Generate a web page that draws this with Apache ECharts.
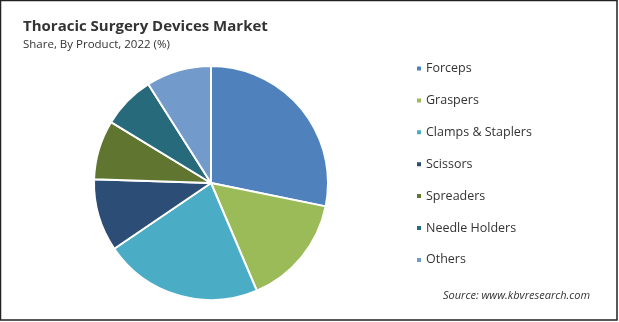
<!DOCTYPE html>
<html>
<head>
<meta charset="utf-8">
<script src="https://cdn.jsdelivr.net/npm/echarts@6/dist/echarts.min.js"></script>
<style>html,body{margin:0;padding:0;background:#fff;}#c{width:619px;height:322px;}</style>
</head>
<body>
<div id="c"></div>
<script>
const categories = ["Forceps", "Graspers", "Clamps & Staplers", "Scissors", "Spreaders", "Needle Holders", "Others"];
const shares = [28.2, 15.4, 21.9, 10.0, 8.2, 7.3, 9.0];
const colors = ["#4f81bd", "#9bbb59", "#4bacc6", "#2c4d75", "#5f7530", "#276a7c", "#729aca"];
const titleText = "Thoracic Surgery Devices Market";
const subtitleText = "Share, By Product, 2022 (%)";
const sourceText = "Source: www.kbvresearch.com";

const chart = echarts.init(document.getElementById('c'), null, {renderer: 'canvas'});
const font = "Open Sans, Noto Sans, sans-serif";
chart.setOption({
  animation: false,
  backgroundColor: '#fff',
  color: colors,
  title: {
    text: titleText,
    subtext: subtitleText,
    left: 18, top: 14,
    itemGap: 5,
    textStyle: {fontFamily: font, fontSize: 15, fontWeight: 'bold', color: '#333'},
    subtextStyle: {fontFamily: font, fontSize: 11.5, color: '#333'}
  },
  legend: {
    orient: 'vertical',
    left: 410, top: 57,
    itemWidth: 6, itemHeight: 6, itemGap: 18.9,
    icon: 'rect',
    textStyle: {fontFamily: font, fontSize: 12.5, color: '#333', padding: [0,0,0,-1]},
    data: categories
  },
  graphic: [
    {type: 'rect', shape: {x: 0.5, y: 0.5, width: 616.5, height: 319.5}, style: {fill: 'none', stroke: '#222', lineWidth: 1.5}, silent: true},
    {type: 'text', left: 443, top: 290, style: {text: sourceText, font: 'italic 11px ' + font, fill: '#333'}}
  ],
  series: [{
    type: 'pie',
    center: [211, 183],
    radius: [0, 117],
    startAngle: 90,
    clockwise: true,
    label: {show: false},
    labelLine: {show: false},
    itemStyle: {borderColor: '#fff', borderWidth: 2},
    data: categories.map((n, i) => ({name: n, value: shares[i]}))
  }]
});
</script>
</body>
</html>
